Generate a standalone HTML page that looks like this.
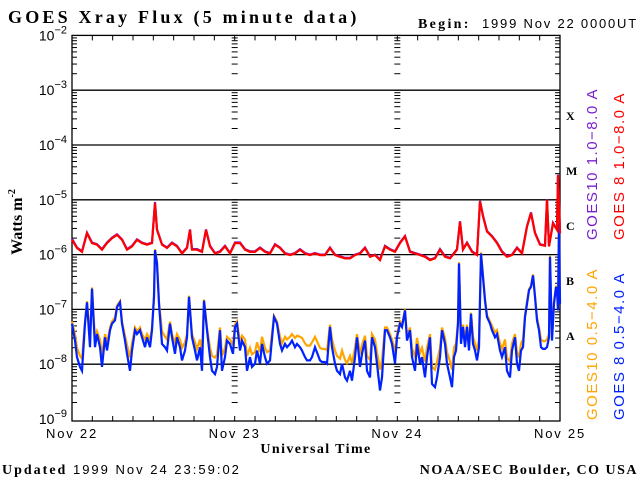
<!DOCTYPE html>
<html><head><meta charset="utf-8"><style>
html,body{margin:0;padding:0;background:#fff;}
svg{display:block;}
.serif{font-family:"Liberation Serif",serif;font-weight:bold;}
.sans{font-family:"Liberation Sans",sans-serif;}
</style></head><body>
<svg id="chart" width="640" height="480" viewBox="0 0 640 480" xmlns="http://www.w3.org/2000/svg">
<text class="serif" x="8" y="23" font-size="18" letter-spacing="3.2">GOES Xray Flux (5 minute data)</text>
<text class="serif" x="418" y="28" font-size="14" letter-spacing="2.3">Begin:</text>
<text class="sans" x="482" y="28" font-size="13" letter-spacing="1.8">1999 Nov 22 0000UT</text>
<text class="serif" font-size="16" transform="translate(22,222) rotate(-90)" text-anchor="middle">Watts m<tspan font-size="10" dy="-7">-2</tspan></text>
<text class="serif" x="316" y="453" font-size="14" text-anchor="middle" letter-spacing="1.4">Universal Time</text>
<text x="2" y="474" font-size="14"><tspan class="serif" letter-spacing="2">Updated</tspan><tspan class="sans" font-size="13" letter-spacing="2"> 1999 Nov 24 23:59:02</tspan></text>
<text class="serif" x="638" y="474" font-size="14" text-anchor="end" letter-spacing="1.5">NOAA/SEC Boulder, CO USA</text>
<g id="grid"></g><g id="ticks"></g><g id="series"></g><g id="labels"></g>
<g font-family="Liberation Serif,serif" font-weight="bold" font-size="12">
<text x="566" y="120">X</text>
<text x="566" y="175">M</text>
<text x="566" y="230">C</text>
<text x="566" y="285">B</text>
<text x="566" y="340">A</text>
</g>
<g class="sans" font-size="15" letter-spacing="1.5">
<text fill="#7a1fd0" transform="translate(597,240) rotate(-90)">GOES10 1.0−8.0 A</text>
<text fill="#ff0000" transform="translate(624,240) rotate(-90)">GOES 8 1.0−8.0 A</text>
<text fill="#ffa500" transform="translate(597,420) rotate(-90)">GOES10 0.5−4.0 A</text>
<text fill="#0022ff" transform="translate(624,420) rotate(-90)">GOES 8 0.5−4.0 A</text>
</g>
</svg>
<script>
var dayLabels=["Nov 22","Nov 23","Nov 24","Nov 25"];
var decades=[-2,-3,-4,-5,-6,-7,-8,-9];
var redT=[0,0.74,1.48,2.21,2.95,3.69,4.43,5.16,5.90,6.64,7.38,8.11,8.85,9.59,10.33,11.07,11.80,12.25,12.54,13.28,14.02,14.75,15.49,16.23,16.97,17.41,17.70,18.44,19.18,19.77,20.36,21.10,21.84,22.57,23.31,24.05,24.79,25.52,26.26,27.00,27.74,28.48,29.21,29.95,30.69,31.43,32.16,32.90,33.64,34.38,35.11,35.85,36.59,37.33,38.07,38.80,39.54,40.28,41.02,41.75,42.49,43.23,43.97,44.70,45.44,46.18,46.92,47.66,48.39,49.13,49.87,50.61,51.34,52.08,52.82,53.56,54.30,55.03,55.77,56.36,56.80,57.25,57.69,58.28,59.02,59.75,60.20,60.64,61.23,61.97,62.70,63.44,64.18,64.92,65.66,66.39,67.13,67.72,68.31,69.05,69.79,70.08,70.38,70.97,71.56,71.70,72];
var goes8Long=[-5.73,-5.88,-5.95,-5.61,-5.79,-5.82,-5.91,-5.79,-5.70,-5.64,-5.73,-5.91,-5.85,-5.73,-5.79,-5.82,-5.79,-5.06,-5.55,-5.82,-5.88,-5.79,-5.85,-5.98,-5.88,-5.55,-5.91,-5.91,-5.95,-5.55,-5.85,-5.98,-5.95,-5.85,-5.98,-5.79,-5.79,-5.91,-5.95,-5.95,-5.88,-5.95,-5.98,-5.82,-5.88,-5.98,-6.01,-5.98,-5.91,-5.98,-6.01,-5.98,-6.01,-6.01,-5.88,-6.01,-6.04,-6.07,-6.07,-6.01,-5.98,-5.88,-6.04,-6.01,-6.10,-5.85,-5.91,-5.95,-5.79,-5.67,-5.95,-5.98,-6.01,-6.04,-6.10,-6.07,-5.91,-6.04,-6.07,-5.98,-5.91,-5.40,-5.91,-5.79,-5.95,-6.01,-5.03,-5.30,-5.58,-5.67,-5.79,-5.95,-6.04,-6.01,-5.88,-5.98,-5.49,-5.24,-5.61,-5.82,-5.84,-5.00,-5.85,-5.43,-5.55,-4.55,-5.61];
var goes10Long=[-5.71,-5.87,-5.94,-5.60,-5.78,-5.81,-5.90,-5.78,-5.69,-5.63,-5.72,-5.90,-5.84,-5.72,-5.78,-5.81,-5.78,-5.04,-5.54,-5.81,-5.87,-5.78,-5.84,-5.97,-5.87,-5.54,-5.90,-5.90,-5.94,-5.54,-5.84,-5.97,-5.94,-5.84,-5.97,-5.78,-5.78,-5.90,-5.94,-5.94,-5.87,-5.94,-5.97,-5.81,-5.87,-5.97,-6.00,-5.97,-5.90,-5.97,-6.00,-5.97,-6.00,-6.00,-5.87,-6.00,-6.03,-6.06,-6.06,-6.00,-5.97,-5.87,-6.03,-6.00,-6.09,-5.84,-5.90,-5.94,-5.78,-5.66,-5.94,-5.97,-6.00,-6.03,-6.09,-6.06,-5.90,-6.03,-6.06,-5.97,-5.90,-5.39,-5.90,-5.78,-5.94,-6.00,-5.02,-5.29,-5.57,-5.66,-5.78,-5.94,-6.03,-6.00,-5.87,-5.97,-5.48,-5.23,-5.60,-5.81,-5.83,-4.99,-5.84,-5.42,-5.54,-4.54,-5.60];
var shortT=[0,0.44,0.74,1.18,1.48,1.92,2.21,2.66,2.95,3.39,3.69,4.13,4.43,4.87,5.16,5.61,5.90,6.34,6.64,7.08,7.38,7.82,8.11,8.56,8.85,9.30,9.59,10.03,10.33,10.77,11.07,11.51,11.80,12.10,12.25,12.54,12.84,13.28,13.72,14.02,14.46,14.75,15.20,15.49,15.93,16.23,16.67,16.97,17.26,17.70,18.15,18.44,18.89,19.18,19.48,19.92,20.36,20.66,21.10,21.39,21.84,22.13,22.57,22.87,23.31,23.75,24.05,24.34,24.79,25.08,25.52,25.82,26.26,26.56,27.00,27.30,27.74,28.03,28.48,28.77,29.21,29.80,30.25,30.69,30.98,31.43,31.72,32.16,32.46,32.90,33.20,33.64,33.93,34.38,34.67,35.11,35.41,35.85,36.59,36.89,37.33,37.62,38.07,38.36,38.80,39.10,39.54,39.84,40.28,40.57,41.02,41.31,41.75,42.05,42.49,42.79,43.23,43.52,43.97,44.26,44.70,45.00,45.44,45.74,46.18,46.48,46.92,47.21,47.66,47.95,48.39,48.69,49.13,49.43,49.87,50.16,50.61,50.90,51.34,51.64,52.08,52.38,52.82,53.11,53.56,53.85,54.30,54.59,55.03,55.33,55.77,56.07,56.36,56.66,56.95,57.10,57.39,57.69,57.98,58.28,58.57,58.87,59.16,59.46,59.75,60.05,60.34,60.64,60.93,61.23,61.67,61.97,62.41,62.70,63.15,63.44,63.89,64.18,64.62,64.92,65.36,65.66,65.95,66.25,66.54,66.84,67.13,67.43,67.72,68.02,68.31,68.61,68.90,69.20,69.49,69.79,70.08,70.38,70.52,70.82,71.11,71.41,71.56,71.70,71.85,72];
var goes8Short=[-7.26,-7.57,-7.87,-8.05,-8.12,-7.26,-6.87,-7.69,-6.62,-7.69,-7.45,-7.69,-8.05,-7.51,-7.75,-7.38,-7.26,-7.20,-6.96,-6.87,-7.26,-7.57,-7.81,-8.12,-7.75,-7.38,-7.45,-7.38,-7.51,-7.69,-7.51,-7.69,-7.38,-6.77,-5.92,-6.16,-6.90,-7.63,-7.69,-7.75,-7.26,-7.51,-7.81,-7.51,-7.69,-7.93,-7.75,-7.51,-6.77,-7.51,-7.75,-7.93,-7.69,-8.12,-6.84,-7.38,-7.87,-8.12,-8.18,-8.05,-7.38,-8.12,-7.87,-7.57,-7.63,-7.81,-7.32,-7.26,-7.75,-7.57,-7.69,-8.12,-7.87,-8.05,-7.99,-7.75,-7.99,-7.63,-7.87,-7.99,-7.93,-7.14,-7.26,-7.63,-7.75,-7.63,-7.69,-7.63,-7.57,-7.69,-7.63,-7.69,-7.75,-7.87,-7.93,-7.93,-7.87,-7.69,-7.93,-7.96,-7.96,-7.99,-7.32,-7.69,-7.99,-8.12,-8.18,-7.99,-8.24,-8.30,-8.12,-8.30,-7.87,-7.51,-8.05,-7.81,-7.57,-8.12,-8.24,-7.51,-7.69,-7.99,-8.48,-8.24,-7.38,-7.38,-7.51,-7.63,-7.99,-7.51,-7.26,-7.32,-7.02,-7.57,-7.38,-7.87,-8.12,-7.63,-7.99,-7.87,-8.24,-7.87,-7.51,-8.36,-8.42,-8.24,-7.87,-7.38,-7.63,-7.99,-8.24,-8.42,-7.87,-7.75,-7.26,-6.16,-7.63,-7.32,-7.69,-7.32,-7.75,-7.08,-7.63,-7.75,-7.93,-7.69,-5.98,-6.41,-6.84,-7.14,-7.26,-7.38,-7.51,-7.45,-7.75,-7.87,-7.69,-8.12,-8.24,-7.75,-7.51,-7.99,-8.12,-7.75,-7.69,-7.14,-6.90,-6.65,-6.59,-6.38,-6.77,-7.20,-7.38,-7.69,-7.72,-7.72,-7.69,-7.51,-6.04,-7.57,-6.90,-6.59,-6.65,-7.02,-5.43,-6.90];
var goes10Short=[-7.22,-7.45,-7.70,-7.85,-7.90,-7.22,-6.85,-7.55,-6.60,-7.55,-7.40,-7.55,-7.85,-7.45,-7.62,-7.33,-7.22,-7.15,-6.93,-6.85,-7.22,-7.48,-7.65,-7.88,-7.62,-7.33,-7.40,-7.33,-7.45,-7.55,-7.45,-7.55,-7.33,-6.75,-5.90,-6.14,-6.86,-7.40,-7.50,-7.55,-7.22,-7.45,-7.60,-7.45,-7.55,-7.70,-7.60,-7.45,-6.75,-7.45,-7.60,-7.72,-7.55,-7.82,-6.82,-7.33,-7.70,-7.85,-7.88,-7.82,-7.33,-7.85,-7.70,-7.50,-7.55,-7.65,-7.28,-7.22,-7.60,-7.48,-7.55,-7.85,-7.70,-7.82,-7.78,-7.60,-7.78,-7.50,-7.70,-7.78,-7.75,-7.12,-7.22,-7.50,-7.62,-7.50,-7.55,-7.50,-7.45,-7.52,-7.48,-7.50,-7.52,-7.62,-7.66,-7.66,-7.60,-7.50,-7.70,-7.72,-7.72,-7.75,-7.28,-7.55,-7.75,-7.85,-7.90,-7.75,-7.92,-7.98,-7.85,-7.98,-7.70,-7.45,-7.82,-7.65,-7.48,-7.85,-7.92,-7.45,-7.55,-7.78,-8.10,-7.92,-7.33,-7.33,-7.45,-7.55,-7.78,-7.45,-7.22,-7.28,-7.00,-7.48,-7.33,-7.70,-7.88,-7.52,-7.80,-7.70,-7.95,-7.70,-7.45,-8.05,-8.10,-7.95,-7.70,-7.33,-7.52,-7.78,-7.95,-8.10,-7.70,-7.62,-7.22,-6.14,-7.50,-7.28,-7.55,-7.28,-7.62,-7.06,-7.50,-7.62,-7.75,-7.55,-5.96,-6.38,-6.80,-7.10,-7.22,-7.30,-7.42,-7.38,-7.62,-7.72,-7.55,-7.88,-7.95,-7.62,-7.45,-7.78,-7.88,-7.62,-7.55,-7.10,-6.86,-6.63,-6.57,-6.36,-6.75,-7.15,-7.33,-7.55,-7.58,-7.58,-7.55,-7.45,-6.02,-7.50,-6.86,-6.57,-6.63,-6.98,-5.41,-6.86];

var X0=72,X1=560,Y0=35.4,DEC=54.8,YB=421;
function xs(h){return X0+(X1-X0)*h/72;}
function ys(l){return Y0+(-2-l)*DEC;}
var NS="http://www.w3.org/2000/svg";
function mk(tag,parent){var e=document.createElementNS(NS,tag);document.getElementById(parent).appendChild(e);return e;}

var fr=mk('rect','grid');


fr.setAttribute('x',X0);fr.setAttribute('y',Y0);fr.setAttribute('width',X1-X0);fr.setAttribute('height',YB-Y0);
fr.setAttribute('fill','none');fr.setAttribute('stroke','#000');fr.setAttribute('stroke-width','1.3');

decades.forEach(function(d){
  var y=ys(d);
  if(d<-2&&d>-9){
    var g=mk('line','grid');
    
    
    g.setAttribute('x1',X0);g.setAttribute('x2',X1);g.setAttribute('y1',y);g.setAttribute('y2',y);g.setAttribute('stroke','#000');g.setAttribute('stroke-width','1.3');
  }
  var t=mk('text','labels');
  
  
  t.setAttribute('x',67);t.setAttribute('y',y+5);t.setAttribute('text-anchor','end');
  t.setAttribute('font-family','Liberation Sans,sans-serif');t.setAttribute('font-size','14');
  t.innerHTML='10<tspan font-size="11" dy="-7">'+(d<0?'−':'')+Math.abs(d)+'</tspan>';
  if(d>-9){
    for(var m=2;m<=9;m++){
      var yy=ys(d-1+Math.log10(m));
      [[X0,X0+5],[X1-5,X1],[xs(24)-3,xs(24)+3],[xs(48)-3,xs(48)+3]].forEach(function(p){
        var l=mk('line','ticks');
        
        
        l.setAttribute('x1',p[0]);l.setAttribute('x2',p[1]);l.setAttribute('y1',yy);l.setAttribute('y2',yy);l.setAttribute('stroke','#000');
      });
    }
    [xs(24),xs(48)].forEach(function(x){
      var l=mk('line','ticks');
      
      
      l.setAttribute('x1',x-3);l.setAttribute('x2',x+3);l.setAttribute('y1',y);l.setAttribute('y2',y);l.setAttribute('stroke','#000');
    });
  }
});
for(var h=3;h<72;h+=3){
  [[Y0,Y0+5],[YB-5,YB]].forEach(function(p){
    var l=mk('line','ticks');
    
    
    l.setAttribute('x1',xs(h));l.setAttribute('x2',xs(h));l.setAttribute('y1',p[0]);l.setAttribute('y2',p[1]);l.setAttribute('stroke','#000');
  });
}
dayLabels.forEach(function(s,i){
  var t=mk('text','labels');
  
  
  t.setAttribute('x',xs(i*24));t.setAttribute('y',438);t.setAttribute('text-anchor','middle');
  t.setAttribute('font-family','Liberation Sans,sans-serif');t.setAttribute('font-size','13');t.setAttribute('letter-spacing','1.8');
  t.textContent=s;
});
function series(T,V,color,name){
  var d='';
  for(var i=0;i<T.length;i++){d+=(i?'L':'M')+xs(T[i]).toFixed(1)+' '+ys(V[i]).toFixed(1);}
  var p=mk('path','series');
  
  
  p.setAttribute('d',d);p.setAttribute('fill','none');p.setAttribute('stroke',color);p.setAttribute('stroke-width','2.2');p.setAttribute('stroke-linejoin','miter');
}
series(shortT,goes10Short,'#ffa500','series-goes10-short');
series(shortT,goes8Short,'#0022ff','series-goes8-short');
series(redT,goes10Long,'#7a1fd0','series-goes10-long');
series(redT,goes8Long,'#ff0000','series-goes8-long');
</script>
</body></html>
